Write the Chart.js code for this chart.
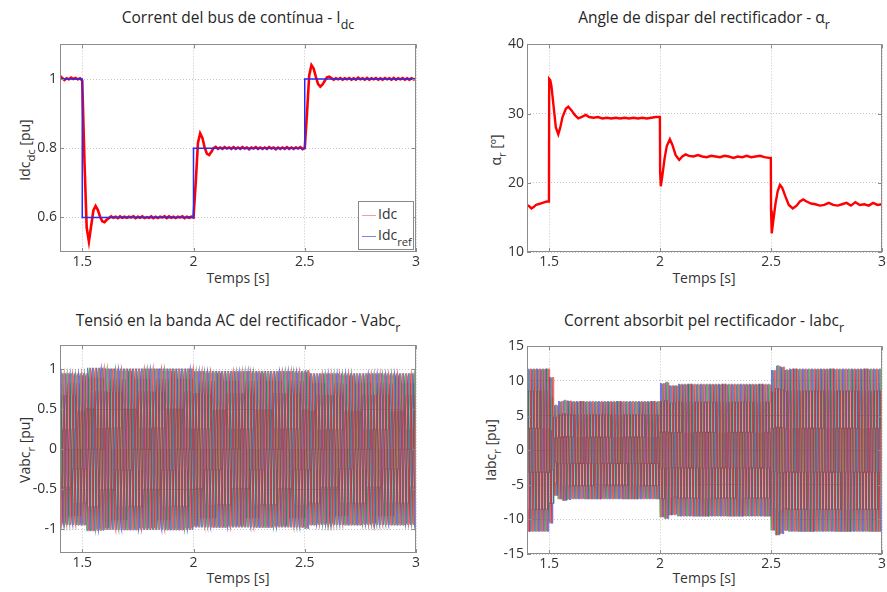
<!DOCTYPE html>
<html>
<head>
<meta charset="utf-8">
<script src="https://cdn.jsdelivr.net/npm/chart.js@4.4.1/dist/chart.umd.min.js"></script>
<style>
  body { margin: 0; background: #fff; width: 887px; height: 592px; position: relative; overflow: hidden;
         font-family: "Open Sans", sans-serif; color: #262626; }
  .box { position: absolute; }
  .title { position: absolute; white-space: nowrap; transform: translateX(-50%); font-size: 15.5px; line-height: 18px; }
  .xl { position: absolute; white-space: nowrap; transform: translate(-50%, -50%); font-size: 14px; color: #333; }
  .yl { position: absolute; white-space: nowrap; transform: translate(-50%, -50%) rotate(-90deg); font-size: 14px; color: #333; }
  sub { font-size: 0.8em; vertical-align: -0.5em; line-height: 0; }
  .legend { position: absolute; left: 358px; top: 201px; width: 54px; height: 47px; border: 1px solid #8a8a8a;
            background: #fff; font-size: 14px; color: #333; }
  .legend .row { position: absolute; left: 3px; white-space: nowrap; }
  .legend .ln { display: inline-block; width: 14px; height: 0; border-top: 1.5px solid; vertical-align: middle; margin-right: 2px; }
</style>
</head>
<body>

<div class="title" style="left:238px; top:8px">Corrent del bus de contínua - I<sub>dc</sub></div>
<div class="title" style="left:704px; top:8px">Angle de dispar del rectificador - α<sub>r</sub></div>
<div class="title" style="left:238px; top:311px">Tensió en la banda AC del rectificador - Vabc<sub>r</sub></div>
<div class="title" style="left:704px; top:311px">Corrent absorbit pel rectificador - Iabc<sub>r</sub></div>

<div class="yl" style="left:24px; top:150px">Idc<sub>dc</sub> [pu]</div>
<div class="yl" style="left:495px; top:150px">α<sub>r</sub> [º]</div>
<div class="yl" style="left:24px; top:450px">Vabc<sub>r</sub> [pu]</div>
<div class="yl" style="left:490px; top:450px">Iabc<sub>r</sub> [pu]</div>

<div class="xl" style="left:238px; top:277px">Temps [s]</div>
<div class="xl" style="left:704px; top:277px">Temps [s]</div>
<div class="xl" style="left:238px; top:577px">Temps [s]</div>
<div class="xl" style="left:704px; top:577px">Temps [s]</div>

<div class="box" id="b1"><canvas id="c1"></canvas></div>
<div class="box" id="b2"><canvas id="c2"></canvas></div>
<div class="box" id="b3"><canvas id="c3"></canvas></div>
<div class="box" id="b4"><canvas id="c4"></canvas></div>

<div class="legend">
  <div class="row" style="top:2px"><span class="ln" style="border-color:#f0a0a0"></span>Idc</div>
  <div class="row" style="top:23px"><span class="ln" style="border-color:#8080f0"></span>Idc<sub>ref</sub></div>
</div>

<script>
// ---- data ----
const timeTicks = [1.5, 2, 2.5, 3];

// Idc, sampled every 10 ms from 1.40 s to 3.00 s
const idcStart = 1.4;
const idcStep = 0.01;
const idcValues = [
  1.009, 1.003, 0.997, 1.002, 0.999, 1.004, 1.000, 1.003, 0.999, 1.002,
  0.995, 0.760, 0.570, 0.530, 0.575, 0.620, 0.633, 0.622, 0.602, 0.589,
  0.586, 0.593, 0.598, 0.603, 0.599, 0.602, 0.598, 0.603, 0.599, 0.602,
  0.599, 0.602, 0.600, 0.603, 0.598, 0.602, 0.599, 0.603, 0.598, 0.601,
  0.599, 0.603, 0.598, 0.602, 0.598, 0.602, 0.600, 0.603, 0.598, 0.603,
  0.599, 0.602, 0.598, 0.602, 0.600, 0.603, 0.598, 0.602, 0.599, 0.602,
  0.600, 0.700, 0.815, 0.843, 0.830, 0.802, 0.784, 0.780, 0.789, 0.800,
  0.804, 0.798, 0.802, 0.798, 0.803, 0.799, 0.802, 0.798, 0.803, 0.798,
  0.802, 0.798, 0.803, 0.799, 0.802, 0.797, 0.802, 0.799, 0.803, 0.798,
  0.802, 0.798, 0.802, 0.798, 0.803, 0.799, 0.802, 0.797, 0.802, 0.798,
  0.802, 0.798, 0.803, 0.798, 0.802, 0.798, 0.802, 0.799, 0.803, 0.797,
  0.800, 0.900, 1.010, 1.040, 1.030, 1.006, 0.985, 0.978, 0.984, 0.995,
  1.005, 1.007, 1.003, 0.998, 1.002, 0.999, 1.003, 0.998, 1.002, 0.999,
  1.003, 0.998, 1.002, 0.998, 1.004, 0.999, 1.002, 0.998, 1.003, 0.998,
  1.002, 0.999, 1.003, 0.998, 1.002, 0.998, 1.003, 0.999, 1.002, 0.998,
  1.003, 0.998, 1.002, 0.999, 1.003, 0.998, 1.002, 0.998, 1.002, 0.999,
  1.000
];
const idcRefTime  = [1.4, 1.5, 1.5, 2.0, 2.0, 2.5, 2.5, 3.0];
const idcRefValue = [1.0, 1.0, 0.6, 0.6, 0.8, 0.8, 1.0, 1.0];

// firing angle alpha_r [deg]
const alphaTime = [
  1.400, 1.410, 1.420, 1.430, 1.440, 1.450, 1.460, 1.470, 1.480, 1.490, 1.499,
  1.500, 1.505, 1.510, 1.520, 1.530, 1.541, 1.550, 1.560, 1.575, 1.586, 1.600, 1.615, 1.631, 1.645, 1.665,
  1.680, 1.700, 1.720, 1.740, 1.760, 1.780, 1.800, 1.820, 1.840, 1.860, 1.880, 1.900, 1.920, 1.940, 1.960, 1.980, 1.999,
  2.000, 2.003, 2.010, 2.020, 2.030, 2.044, 2.055, 2.070, 2.086, 2.100, 2.115, 2.130,
  2.150, 2.170, 2.190, 2.210, 2.230, 2.250, 2.270, 2.290, 2.310, 2.330, 2.350, 2.370, 2.390, 2.410, 2.430, 2.450, 2.470, 2.490, 2.499,
  2.500, 2.503, 2.510, 2.520, 2.530, 2.540, 2.550, 2.565, 2.580, 2.598, 2.615, 2.630, 2.645, 2.660,
  2.680, 2.700, 2.720, 2.740, 2.760, 2.780, 2.800, 2.820, 2.840, 2.860, 2.880, 2.900, 2.920, 2.940, 2.960, 2.980, 3.000
];
const alphaValue = [
  16.8, 16.6, 16.3, 16.5, 16.8, 16.9, 17.0, 17.1, 17.2, 17.3, 17.3,
  35.0, 34.8, 34.0, 31.0, 28.0, 27.0, 28.0, 29.5, 30.7, 31.0, 30.5, 29.8, 29.3, 29.5, 29.8,
  29.5, 29.4, 29.5, 29.3, 29.4, 29.3, 29.4, 29.3, 29.4, 29.3, 29.4, 29.3, 29.4, 29.3, 29.4, 29.5, 29.5,
  21.5, 19.5, 21.0, 23.5, 25.3, 26.3, 25.5, 24.0, 23.3, 23.8, 24.1, 23.9,
  23.8, 24.0, 23.8, 23.7, 23.9, 23.8, 23.7, 23.9, 23.8, 23.6, 23.8, 23.7, 23.9, 23.7, 23.8, 23.9, 23.7, 23.6, 23.6,
  16.0, 12.7, 14.5, 17.0, 18.8, 19.7, 19.3, 18.0, 16.8, 16.3, 16.7, 17.3, 17.6, 17.3,
  17.0, 16.9, 16.7, 16.8, 17.1, 16.8, 16.7, 16.9, 17.1, 16.7, 17.2, 16.8, 16.9, 16.7, 17.1, 16.8, 16.9
];

// AC side: one 20 ms cycle per entry, 1.40 s .. 3.00 s (80 cycles)
const cycleStart = 1.4;
const cyclePeriod = 0.02;
// voltage peak per cycle [pu]
const vabcPeak = [
  0.95, 0.95, 0.95, 0.95, 0.95, 0.95,
  1.02, 1.02, 1.02, 1.02, 1.01, 1.01, 1.01, 1.01, 1.01, 1.01, 1.01, 1.01,
  1.01, 1.01, 1.01, 1.01, 1.01, 1.01, 1.01, 1.01, 1.01, 1.01, 1.01, 1.01,
  0.98, 0.98, 0.98, 0.98, 0.98, 0.98, 0.98, 0.98, 0.98, 0.98, 0.98, 0.98, 0.98,
  0.98, 0.98, 0.98, 0.98, 0.98, 0.98, 0.98, 0.98, 0.98, 0.98, 0.98, 0.98, 0.99,
  0.95, 0.95, 0.95, 0.95, 0.95, 0.95, 0.95, 0.95, 0.95, 0.95, 0.95, 0.95,
  0.95, 0.95, 0.95, 0.95, 0.95, 0.95, 0.95, 0.95, 0.95, 0.95, 0.95, 0.95
];
// voltage waveform over one cycle, 24 samples (15 deg apart)
const vabcShape = [
  0, 0.26, 0.5, 0.71, 0.87, 0.97, 1, 0.97, 0.87, 0.71, 0.5, 0.26,
  0, -0.26, -0.5, -0.71, -0.87, -0.97, -1, -0.97, -0.87, -0.71, -0.5, -0.26
];
// current peak per cycle [pu]
const iabcPeak = [
  11.7, 11.7, 11.7, 11.7, 11.7,
  10.5, 6.5, 7.0, 7.2, 7.1,
  7.0, 7.0, 7.0, 7.0, 7.0, 7.0, 7.0, 7.0, 7.0, 7.0,
  7.0, 7.0, 7.0, 7.0, 7.0, 7.0, 7.0, 7.0, 7.0, 7.0,
  9.6, 9.8, 9.3, 9.3,
  9.5, 9.5, 9.5, 9.5, 9.5, 9.5, 9.5, 9.5, 9.5, 9.5, 9.5,
  9.5, 9.5, 9.5, 9.5, 9.5, 9.5, 9.5, 9.5, 9.5, 9.5,
  11.5, 12.2, 12.0, 11.6,
  11.7, 11.7, 11.7, 11.7, 11.7, 11.7, 11.7, 11.7, 11.7, 11.7, 11.7,
  11.7, 11.7, 11.7, 11.7, 11.7, 11.7, 11.7, 11.7, 11.7, 11.7
];
// 12-pulse staircase current over one cycle, 24 samples
const iabcShape = [
  0.27, 0.27, 0.73, 0.73, 1, 1, 1, 1, 0.73, 0.73, 0.27, 0.27,
  -0.27, -0.27, -0.73, -0.73, -1, -1, -1, -1, -0.73, -0.73, -0.27, -0.27
];
const phaseShift = [0, 16, 8];   // samples, a / b / c
const phaseColors = ['rgba(30,30,220,0.6)', 'rgba(20,120,40,0.6)', 'rgba(225,20,20,0.6)'];

// ---- helpers ----
function phasePoints(peaks, shape, shift) {
  const n = shape.length;
  const pts = [];
  peaks.forEach((pk, c) => {
    for (let k = 0; k < n; k++) {
      pts.push({ x: cycleStart + c * cyclePeriod + k * cyclePeriod / n, y: pk * shape[(k + shift) % n] });
    }
  });
  pts.push({ x: cycleStart + peaks.length * cyclePeriod, y: peaks[peaks.length - 1] * shape[shift % n] });
  return pts;
}

const boxPlugin = {
  id: 'box',
  afterDraw(chart) {
    const { ctx, chartArea: a, scales } = chart;
    ctx.save();
    ctx.strokeStyle = '#8c8c8c';
    ctx.lineWidth = 1;
    ctx.strokeRect(Math.round(a.left) + 0.5, Math.round(a.top) + 0.5, Math.round(a.width) - 1, Math.round(a.height) - 1);
    ctx.beginPath();
    scales.x.ticks.forEach(t => {
      const px = Math.round(scales.x.getPixelForValue(t.value)) + 0.5;
      ctx.moveTo(px, a.bottom); ctx.lineTo(px, a.bottom - 4);
      ctx.moveTo(px, a.top); ctx.lineTo(px, a.top + 4);
    });
    scales.y.ticks.forEach(t => {
      const py = Math.round(scales.y.getPixelForValue(t.value)) + 0.5;
      ctx.moveTo(a.left, py); ctx.lineTo(a.left + 4, py);
      ctx.moveTo(a.right, py); ctx.lineTo(a.right - 4, py);
    });
    ctx.stroke();
    ctx.restore();
  }
};

const PAD_L = 48, PAD_T = 10, PAD_R = 15, PAD_B = 25;

function makeChart(n, area, yMin, yMax, yTicks, datasets) {
  const w = area.right - area.left + PAD_L + PAD_R;
  const h = area.bottom - area.top + PAD_T + PAD_B;
  const box = document.getElementById('b' + n);
  box.style.left = (area.left - PAD_L) + 'px';
  box.style.top = (area.top - PAD_T) + 'px';
  const cv = document.getElementById('c' + n);
  cv.width = w; cv.height = h;
  cv.style.width = w + 'px'; cv.style.height = h + 'px';
  const tickFont = { family: '"Open Sans", sans-serif', size: 14 };
  return new Chart(cv, {
    type: 'line',
    data: { datasets },
    options: {
      responsive: false,
      animation: false,
      devicePixelRatio: 1,
      layout: { padding: { top: PAD_T, right: PAD_R, left: 0, bottom: 0 } },
      plugins: { legend: { display: false }, tooltip: { enabled: false } },
      elements: { point: { radius: 0 } },
      scales: {
        x: {
          type: 'linear', min: 1.4, max: 3,
          afterBuildTicks: s => { s.ticks = timeTicks.map(v => ({ value: v })); },
          afterFit: s => { s.height = PAD_B; },
          ticks: { color: '#333', font: tickFont, padding: 2, maxRotation: 0, callback: v => String(v) },
          grid: { color: '#c4c4c4', drawTicks: false },
          border: { display: false, dash: [1, 2] }
        },
        y: {
          type: 'linear', min: yMin, max: yMax,
          afterBuildTicks: s => { s.ticks = yTicks.map(v => ({ value: v })); },
          afterFit: s => { s.width = PAD_L; },
          ticks: { color: '#333', font: tickFont, padding: 3, callback: v => String(v) },
          grid: { color: '#c4c4c4', drawTicks: false },
          border: { display: false, dash: [1, 2] }
        }
      }
    },
    plugins: [boxPlugin]
  });
}

// ---- charts ----
makeChart(1, { left: 60, top: 43, right: 416, bottom: 252 }, 0.5, 1.1, [0.6, 0.8, 1], [
  { data: idcRefTime.map((t, i) => ({ x: t, y: idcRefValue[i] })), borderColor: '#2a2af5', borderWidth: 1.5, order: 0 },
  { data: idcValues.map((v, i) => ({ x: idcStart + i * idcStep, y: v })), borderColor: '#ff0000', borderWidth: 2.6, order: 1 }
]);

makeChart(2, { left: 527, top: 43, right: 882, bottom: 252 }, 10, 40, [10, 20, 30, 40], [
  { data: alphaTime.map((t, i) => ({ x: t, y: alphaValue[i] })), borderColor: '#ff0000', borderWidth: 2.4 }
]);

makeChart(3, { left: 60, top: 344, right: 416, bottom: 553 }, -1.3, 1.3, [-1, -0.5, 0, 0.5, 1],
  phaseShift.map((s, p) => ({ data: phasePoints(vabcPeak, vabcShape, s), borderColor: phaseColors[p], borderWidth: 1.3, order: 2 - p }))
);

makeChart(4, { left: 527, top: 345, right: 882, bottom: 554 }, -15, 15, [-15, -10, -5, 0, 5, 10, 15],
  phaseShift.map((s, p) => ({ data: phasePoints(iabcPeak, iabcShape, s), borderColor: phaseColors[p], borderWidth: 1.3, order: 2 - p }))
);
</script>
</body>
</html>
